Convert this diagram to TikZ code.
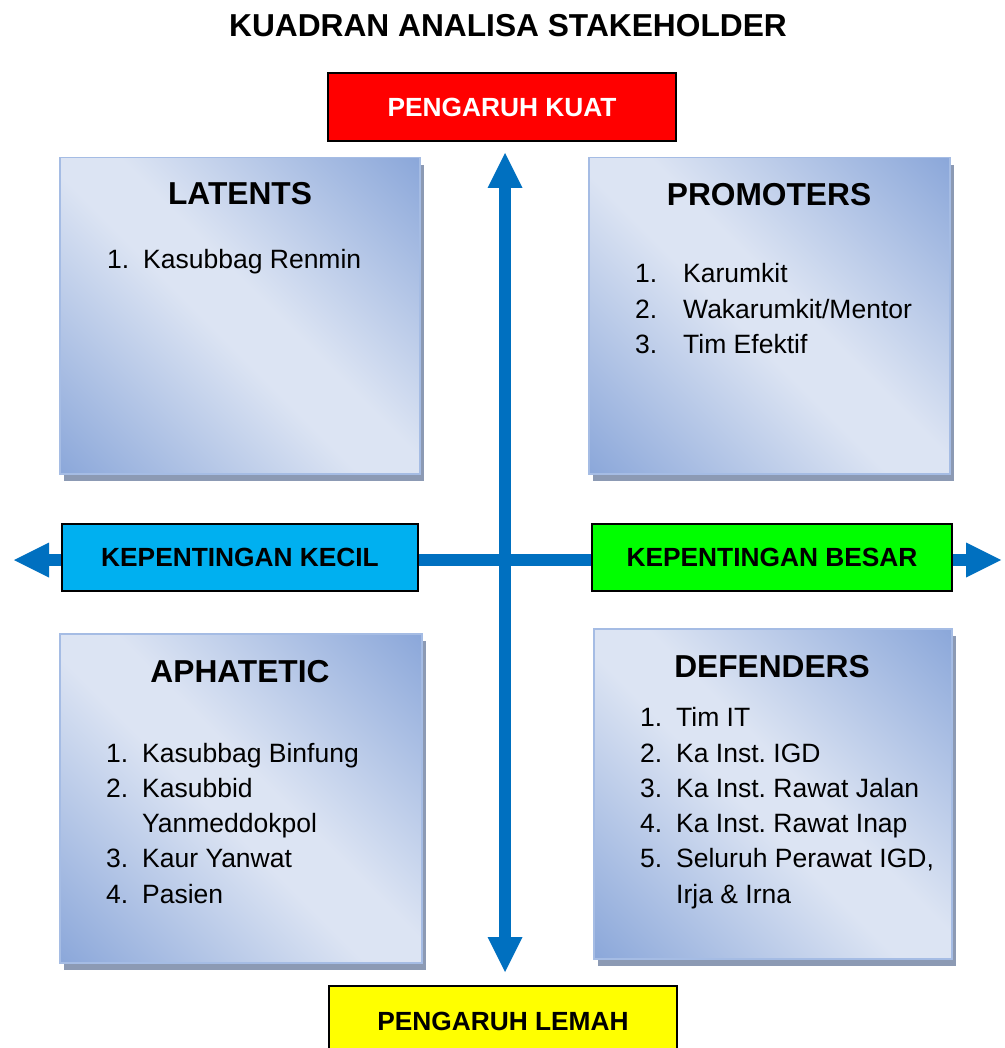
\documentclass[tikz,border=0pt]{standalone}
\usepackage{fontspec}
\setmainfont{Liberation Sans}
\usetikzlibrary{arrows.meta,shadows}
\frenchspacing
\definecolor{qdark}{RGB}{140,168,218}
\definecolor{qlight}{RGB}{220,228,243}
\definecolor{qborder}{RGB}{165,188,228}
\definecolor{qshadow}{RGB}{140,154,180}
\definecolor{axisblue}{RGB}{0,112,192}
\definecolor{kred}{RGB}{255,0,0}
\definecolor{kcyan}{RGB}{0,176,240}
\definecolor{kgreen}{RGB}{0,255,0}
\definecolor{kyellow}{RGB}{255,255,0}
\pgfdeclareverticalshading{quadshade}{100bp}{color(0bp)=(qdark); color(15bp)=(qdark); color(46bp)=(qlight); color(54bp)=(qlight); color(85bp)=(qdark); color(100bp)=(qdark)}
\tikzset{
  qbox/.style={rectangle, inner sep=0pt, anchor=north west, draw=qborder, line width=1.5pt,
    shading=quadshade, shading angle=-45,
    general shadow={fill=qshadow, shadow xshift=4pt, shadow yshift=-7pt}},
  lbl/.style={rectangle, draw=black, line width=1.8pt, inner sep=0pt,
    font=\fontsize{26.3}{30}\selectfont\bfseries},
  ttl/.style={inner sep=0pt, anchor=base, font=\fontsize{31.7}{36}\selectfont\bfseries},
  qitem/.style={inner sep=0pt, anchor=base west, font=\fontsize{26.5}{32}\selectfont},
  qarrow/.style={draw=axisblue, line width=12pt,
    {Triangle[length=35pt,width=35pt,line width=0pt]}-{Triangle[length=35pt,width=35pt,line width=0pt]}}
}
\newcommand{\numA}[1]{\makebox[36pt][l]{#1}}
\newcommand{\numB}[1]{\makebox[48pt][l]{#1}}
\begin{document}
\begin{tikzpicture}[x=1pt,y=-1pt]
\useasboundingbox (0,0) rectangle (1004,1048);
\fill[white] (0,0) rectangle (1004,1048);

% title
\node[ttl] (title) at (508,37) {KUADRAN ANALISA STAKEHOLDER};

% axes
\coordinate (vt) at (505,153);
\coordinate (vb) at (505,972);
\coordinate (hl) at (14,560);
\coordinate (hr) at (1001,560);
\draw[qarrow] (vt) -- (vb);
\draw[qarrow] (hl) -- (hr);

% quadrant boxes
\node[qbox, minimum width=360pt, minimum height=316pt] (lat) at (59,157) {};
\node[qbox, minimum width=361pt, minimum height=316pt] (pro) at (588,157) {};
\node[qbox, minimum width=362pt, minimum height=329pt] (apa) at (59,633) {};
\node[qbox, minimum width=358pt, minimum height=330pt] (def) at (593,628) {};

% label boxes
\node[lbl, fill=kred, text=white, minimum width=348pt, minimum height=68pt] (kuat) at (502,107) {PENGARUH KUAT};
\node[lbl, fill=kcyan, minimum width=356pt, minimum height=67pt] (kecil) at (240,557.5) {KEPENTINGAN KECIL};
\node[lbl, fill=kgreen, minimum width=360pt, minimum height=67pt] (besar) at (772,557.5) {KEPENTINGAN BESAR};
\node[lbl, fill=kyellow, minimum width=348pt, minimum height=70pt] (lemah) at (503,1021) {PENGARUH LEMAH};

% LATENTS
\node[ttl] (tlat) at (240,205) {LATENTS};
\node[qitem] (lat1) at (107,269) {\numA{1.}Kasubbag Renmin};

% PROMOTERS
\node[ttl] (tpro) at (769,206) {PROMOTERS};
\node[qitem] (pro1) at (635,283) {\numB{1.}Karumkit};
\node[qitem] (pro2) at (635,318) {\numB{2.}Wakarumkit/Mentor};
\node[qitem] (pro3) at (635,353) {\numB{3.}Tim Efektif};

% APHATETIC
\node[ttl] (tapa) at (240,682) {APHATETIC};
\node[qitem] (apa1) at (106,762) {\numA{1.}Kasubbag Binfung};
\node[qitem] (apa2) at (106,797) {\numA{2.}Kasubbid};
\node[qitem] (apa2b) at (142,832) {Yanmeddokpol};
\node[qitem] (apa3) at (106,867) {\numA{3.}Kaur Yanwat};
\node[qitem] (apa4) at (106,903) {\numA{4.}Pasien};

% DEFENDERS
\node[ttl] (tdef) at (772,677) {DEFENDERS};
\node[qitem] (def1) at (640,726) {\numA{1.}Tim IT};
\node[qitem] (def2) at (640,762) {\numA{2.}Ka Inst. IGD};
\node[qitem] (def3) at (640,797) {\numA{3.}Ka Inst. Rawat Jalan};
\node[qitem] (def4) at (640,832) {\numA{4.}Ka Inst. Rawat Inap};
\node[qitem] (def5) at (640,867) {\numA{5.}Seluruh Perawat IGD,};
\node[qitem] (def5b) at (676,903) {Irja \& Irna};
\end{tikzpicture}
\end{document}
